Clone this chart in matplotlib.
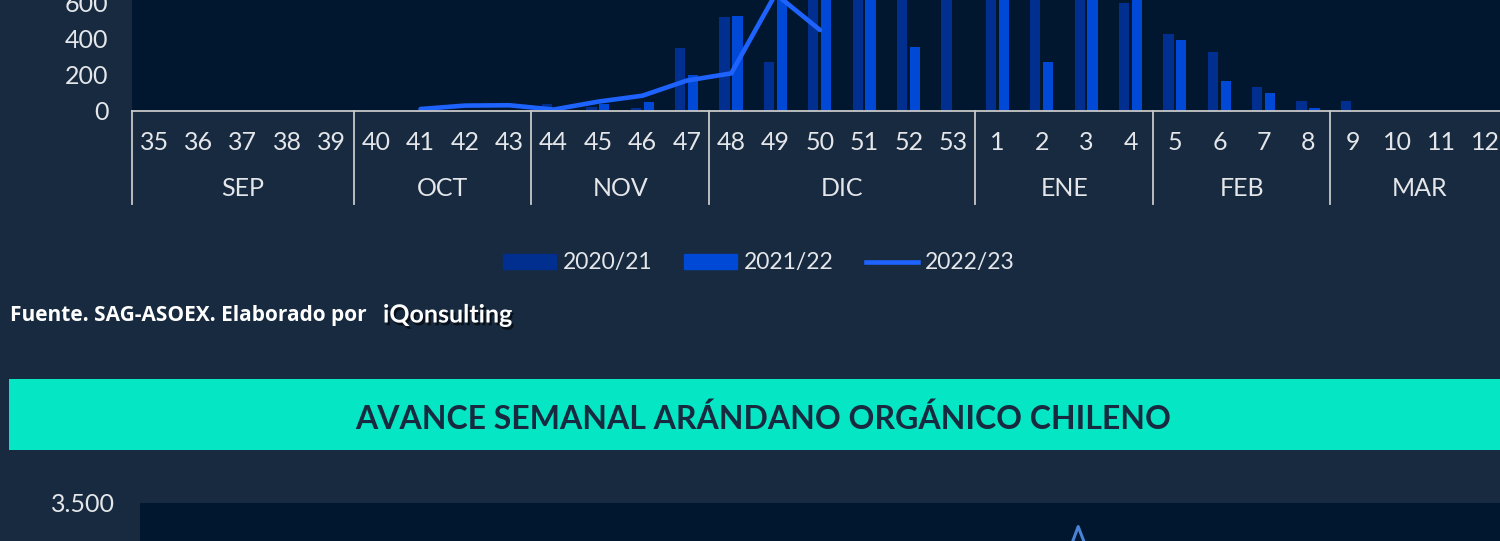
import numpy as np
import matplotlib
matplotlib.use('Agg')
import matplotlib.pyplot as plt
import matplotlib.patheffects as pe
from matplotlib.patches import Rectangle, Patch
from matplotlib.lines import Line2D
from matplotlib.transforms import blended_transform_factory

plt.rcParams['font.family'] = ['Lato', 'DejaVu Sans']

# Data (weekly volume)
weeks = [35, 36, 37, 38, 39, 40, 41, 42, 43, 44, 45, 46, 47, 48, 49, 50, 51, 52, 53,
         1, 2, 3, 4, 5, 6, 7, 8, 9, 10, 11, 12]
months = ['SEP', 'OCT', 'NOV', 'DIC', 'ENE', 'FEB', 'MAR']
month_weeks = [5, 4, 4, 6, 4, 4, 4]   # number of weeks under each month label

season_2020_21 = [0, 0, 0, 0, 0, 0, 0, 0, 0, 39, 20, 17, 350, 520, 270, 900, 1000, 850, 750,
                  800, 760, 900, 600, 426, 328, 131, 56, 56, 0, 0, 0]
season_2021_22 = [0, 0, 0, 0, 0, 0, 0, 0, 0, 0, 39, 52, 200, 530, 1000, 1100, 1200, 357, 0,
                  900, 274, 1000, 850, 394, 169, 100, 17, 0, 0, 0, 0]
season_2022_23 = [None, None, None, None, None, None, 11, 30, 32, 8, 52, 85, 169, 209, 650, 450,
                  None, None, None, None, None, None, None, None, None, None, None, None, None,
                  None, None]
labels = ['2020/21', '2021/22', '2022/23']

# organic chart (only the top of the spike is visible)
organic_2022_23 = [None] * 20 + [2000, 3250, 2050] + [None] * 8
organic_ticks = [0, 500, 1000, 1500, 2000, 2500, 3000, 3500]

title = 'AVANCE SEMANAL ARÁNDANO ORGÁNICO CHILENO'
source = 'Fuente. SAG-ASOEX. Elaborado por'

# Colours
BG = '#172a3f'
PLOT_BG = '#01172f'
DARK = '#002f8f'
BRIGHT = '#0049d6'
LINE = '#1f63ff'
TEXT = '#e4e6ea'
AXIS = '#c8c8c8'
TEAL = '#05e6c4'
FS = 18

W, H = 1500, 541
fig = plt.figure(figsize=(W / 100, H / 100), dpi=100, facecolor=BG)


def fy(py):
    """pixel row (from top) -> figure fraction"""
    return (H - py) / H


# ---- top chart ----
x = np.arange(len(weeks))
ax = fig.add_axes([132 / W, fy(111), 1376 / W, 252 / H])
ax.set_facecolor(PLOT_BG)
ax.bar(x - 0.15, season_2020_21, width=0.23, color=DARK)
ax.bar(x + 0.14, season_2021_22, width=0.23, color=BRIGHT)
line_y = np.array([np.nan if v is None else v for v in season_2022_23], dtype=float)
ax.plot(x, line_y, color=LINE, lw=3.3, solid_capstyle='round', solid_joinstyle='round')
ax.set_xlim(-0.5, len(weeks) - 0.5)
ax.set_ylim(0, 1400)
ax.set_yticks(range(0, 1401, 200))
ax.tick_params(axis='y', length=0, pad=17, labelsize=FS, labelcolor=TEXT)
ax.set_xticks([])
for s in ['top', 'right', 'left']:
    ax.spines[s].set_visible(False)
ax.spines['bottom'].set_color(AXIS)
ax.spines['bottom'].set_linewidth(1.3)

trans = blended_transform_factory(ax.transData, fig.transFigure)
for i, w in enumerate(weeks):
    ax.text(i, fy(142), str(w), transform=trans, ha='center', va='center',
            fontsize=FS, color=TEXT)

# month groups and separators
start = 0
edges = [-0.5]
for m, n in zip(months, month_weeks):
    ax.text(start + (n - 1) / 2, fy(188), m, transform=trans, ha='center', va='center',
            fontsize=FS, color=TEXT)
    start += n
    edges.append(start - 0.5)
for e in edges[:-1]:
    ax.add_line(Line2D([e, e], [fy(111), fy(204)], transform=trans, color=AXIS,
                       lw=1.3, clip_on=False))

# legend
handles = [Patch(color=DARK), Patch(color=BRIGHT), Line2D([], [], color=LINE, lw=3.3)]
fig.legend(handles, labels, loc='center', bbox_to_anchor=(759 / W, fy(263)), ncol=3,
           frameon=False, fontsize=16.5, labelcolor=TEXT, handlelength=2.3,
           handleheight=0.6, handletextpad=0.3, columnspacing=1.4)

# source line
fig.text(10 / W, fy(315), source, ha='left', va='center', fontsize=15,
         fontweight='bold', color='white', family=['Open Sans', 'DejaVu Sans'])
fig.text(383 / W, fy(315), 'iQonsulting', ha='left', va='center', fontsize=18,
         fontweight='bold', color='white',
         path_effects=[pe.withSimplePatchShadow(offset=(1.5, -2), shadow_rgbFace='black',
                                                alpha=0.6)])

# ---- title banner ----
fig.patches.append(Rectangle((9 / W, fy(450)), 1.0, 71 / H, transform=fig.transFigure,
                             facecolor=TEAL, edgecolor='none'))
fig.text(763 / W, fy(419), title, ha='center', va='center', fontsize=23,
         fontweight='bold', color='#172a40')

# ---- organic chart (cut off at the bottom) ----
ax2 = fig.add_axes([140 / W, fy(833), 1368 / W, 330 / H])
ax2.set_facecolor(PLOT_BG)
org_y = np.array([np.nan if v is None else v for v in organic_2022_23], dtype=float)
ax2.plot(x, org_y, color='#4a82d6', lw=2.2)
ax2.set_xlim(-0.5, len(weeks) - 0.15)
ax2.set_ylim(0, 3500)
ax2.set_yticks(organic_ticks)
ax2.set_yticklabels([f'{t:,}'.replace(',', '.') for t in organic_ticks])
ax2.tick_params(axis='y', length=0, pad=18, labelsize=FS, labelcolor=TEXT)
ax2.set_xticks([])
for s in ax2.spines.values():
    s.set_visible(False)

fig.savefig('out.png', dpi=100, facecolor=BG)
